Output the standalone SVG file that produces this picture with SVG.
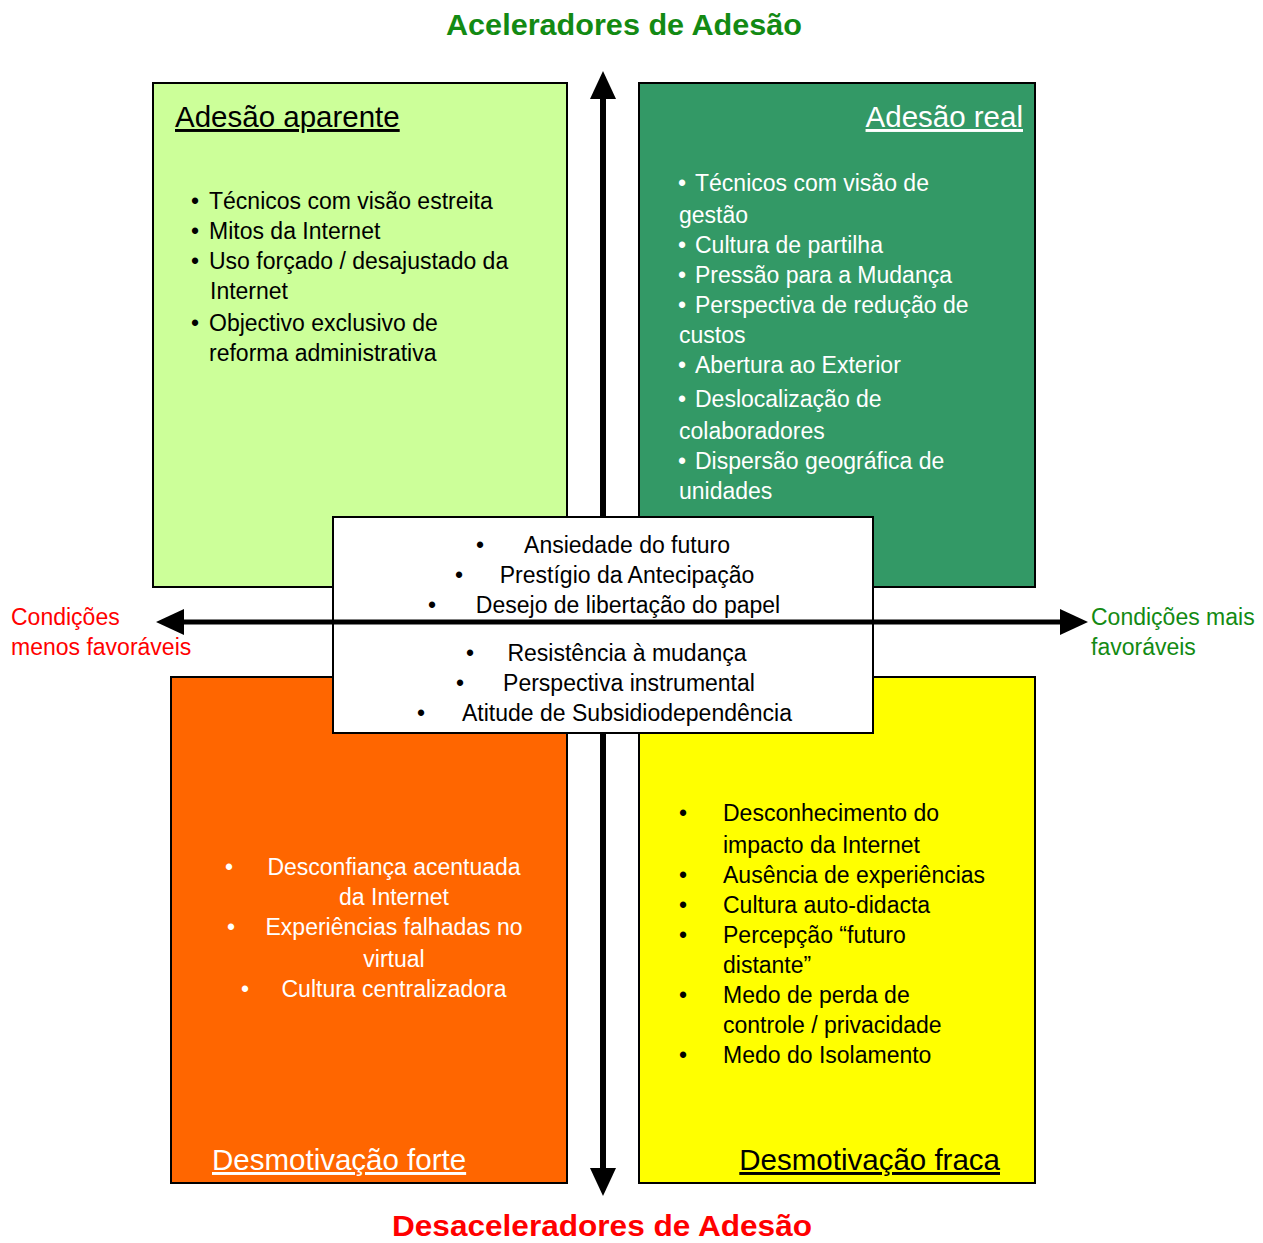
<svg xmlns="http://www.w3.org/2000/svg" width="1263" height="1243" viewBox="0 0 1263 1243">
<style>
text{font-family:"Liberation Sans",Arial,sans-serif}
.t{font-size:23px}
.h{font-size:29.5px;text-decoration:underline}
.big{font-size:30px;font-weight:bold}
.box{stroke:#000;stroke-width:2}
.w{fill:#fff}
.k{fill:#000}
</style>
<defs>
<marker id="ah" markerUnits="userSpaceOnUse" markerWidth="30" markerHeight="30" viewBox="0 0 30 30" refX="2" refY="15" orient="auto">
<path d="M0,2 L28,15 L0,28 Z" fill="#000"/>
</marker>
</defs>
<rect width="1263" height="1243" fill="#fff"/>
<text class="big" x="446" y="35" textLength="356" lengthAdjust="spacingAndGlyphs" fill="#138a13">Aceleradores de Adesão</text>
<text class="big" x="392" y="1236" textLength="420" lengthAdjust="spacingAndGlyphs" fill="#ff0000">Desaceleradores de Adesão</text>

<g id="n-aparente">
<rect class="box" x="153" y="83" width="414" height="504" fill="#ccff99"/>
<text class="h k" x="175" y="127">Adesão aparente</text>
<g class="t k">
<text x="191" y="209">•</text><text x="209" y="209">Técnicos com visão estreita</text>
<text x="191" y="239">•</text><text x="209" y="239">Mitos da Internet</text>
<text x="191" y="269">•</text><text x="209" y="269">Uso forçado / desajustado da</text>
<text x="210" y="299">Internet</text>
<text x="191" y="331">•</text><text x="209" y="331">Objectivo exclusivo de</text>
<text x="209" y="361">reforma administrativa</text>
</g>
</g>

<g id="n-real">
<rect class="box" x="639" y="83" width="396" height="504" fill="#339966"/>
<text class="h w" x="1023" y="127" text-anchor="end">Adesão real</text>
<g class="t w">
<text x="678" y="191">•</text><text x="695" y="191">Técnicos com visão de</text>
<text x="679" y="223">gestão</text>
<text x="678" y="253">•</text><text x="695" y="253">Cultura de partilha</text>
<text x="678" y="283">•</text><text x="695" y="283">Pressão para a Mudança</text>
<text x="678" y="313">•</text><text x="695" y="313">Perspectiva de redução de</text>
<text x="679" y="343">custos</text>
<text x="678" y="373">•</text><text x="695" y="373">Abertura ao Exterior</text>
<text x="678" y="407">•</text><text x="695" y="407">Deslocalização de</text>
<text x="679" y="439">colaboradores</text>
<text x="678" y="469">•</text><text x="695" y="469">Dispersão geográfica de</text>
<text x="679" y="499">unidades</text>
</g>
</g>

<g id="n-forte">
<rect class="box" x="171" y="677" width="396" height="506" fill="#ff6600"/>
<g class="t w">
<text x="225" y="875">•</text><text x="394" y="875" text-anchor="middle">Desconfiança acentuada</text>
<text x="394" y="905" text-anchor="middle">da Internet</text>
<text x="227" y="935">•</text><text x="394" y="935" text-anchor="middle">Experiências falhadas no</text>
<text x="394" y="967" text-anchor="middle">virtual</text>
<text x="241" y="997">•</text><text x="394" y="997" text-anchor="middle">Cultura centralizadora</text>
</g>
<text class="h w" x="212" y="1170">Desmotivação forte</text>
</g>

<g id="n-fraca">
<rect class="box" x="639" y="677" width="396" height="506" fill="#ffff00"/>
<g class="t k">
<text x="679" y="821">•</text><text x="723" y="821">Desconhecimento do</text>
<text x="723" y="853">impacto da Internet</text>
<text x="679" y="883">•</text><text x="723" y="883">Ausência de experiências</text>
<text x="679" y="913">•</text><text x="723" y="913">Cultura auto-didacta</text>
<text x="679" y="943">•</text><text x="723" y="943">Percepção “futuro</text>
<text x="723" y="973">distante”</text>
<text x="679" y="1003">•</text><text x="723" y="1003">Medo de perda de</text>
<text x="723" y="1033">controle / privacidade</text>
<text x="679" y="1063">•</text><text x="723" y="1063">Medo do Isolamento</text>
</g>
<text class="h k" x="1000" y="1170" text-anchor="end">Desmotivação fraca</text>
</g>

<g id="connectors">
<line x1="603" y1="516" x2="603" y2="97" stroke="#000" stroke-width="6" marker-end="url(#ah)"/>
<line x1="603" y1="734" x2="603" y2="1170" stroke="#000" stroke-width="6" marker-end="url(#ah)"/>
</g>

<g id="n-centro">
<rect class="box" x="333" y="517" width="540" height="216" fill="#fff"/>
<g class="t k">
<text x="476" y="553">•</text><text x="627" y="553" text-anchor="middle">Ansiedade do futuro</text>
<text x="455" y="583">•</text><text x="627" y="583" text-anchor="middle">Prestígio da Antecipação</text>
<text x="428" y="613">•</text><text x="628" y="613" text-anchor="middle">Desejo de libertação do papel</text>
<text x="466" y="661">•</text><text x="627" y="661" text-anchor="middle">Resistência à mudança</text>
<text x="456" y="691">•</text><text x="629" y="691" text-anchor="middle">Perspectiva instrumental</text>
<text x="417" y="721">•</text><text x="627" y="721" text-anchor="middle">Atitude de Subsidiodependência</text>
</g>
</g>

<g id="connectors-h">
<line x1="603" y1="622" x2="182" y2="622" stroke="#000" stroke-width="5" marker-end="url(#ah)"/>
<line x1="603" y1="622" x2="1062" y2="622" stroke="#000" stroke-width="5" marker-end="url(#ah)"/>
</g>

<g id="n-menos" class="t" fill="#ff0000">
<text x="11" y="625">Condições</text>
<text x="11" y="655">menos favoráveis</text>
</g>
<g id="n-mais" class="t" fill="#138a13">
<text x="1091" y="625">Condições mais</text>
<text x="1091" y="655">favoráveis</text>
</g>
</svg>
